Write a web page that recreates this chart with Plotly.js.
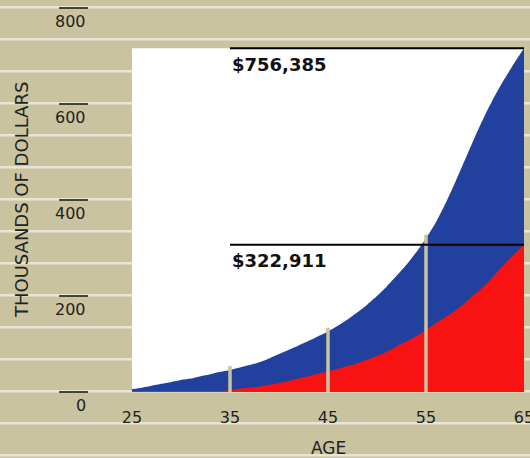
<!DOCTYPE html>
<html>
<head>
<meta charset="utf-8">
<script src="https://cdn.plot.ly/plotly-3.0.1.min.js"></script>
<style>html,body{margin:0;padding:0;background:#c9c49f;}</style>
</head>
<body>
<div id="chart" style="width:530px;height:458px;"></div>
<script>
// ---- data (thousands of dollars) ----
const ages = [25,26,27,28,29,30,31,32,33,34,35,36,37,38,39,40,41,42,43,44,45,46,47,48,49,50,51,52,53,54,55,56,57,58,59,60,61,62,63,64,65];
const totalValue = [6,9,13,17,21,25,28,33,37,42, 46,51,56,62,70,79,88,97,106,116, 126,138,151,166,182,200,220,242,265,291, 320,353,393,438,485,532,576,616,652,685,716];
const contributions = [2,2,2,2,2,2,2,2,2,2, 4,7,9,11,15,19,23,28,33,38, 43,48,54,60,67,75,84,95,105,116, 129,143,156,170,186,204,222,244,266,287,307];
const xTicks = [25,35,45,55,65];
const yTicks = [0,200,400,600,800];
const markerAges = [35,45,55];
const totalLabel = "$756,385";
const contribLabel = "$322,911";
const xTitle = "AGE";
const yTitle = "THOUSANDS OF DOLLARS";

// ---- styles ----
const TAN = "#c9c49f";
const STRIPE = "#e8e5d3";
const BLUE = "#22409e";
const RED = "#f81212";
const FONT = "DejaVu Sans";
const yMax = 800;

const traces = [
  {x: ages, y: totalValue, type: "scatter", mode: "lines", fill: "tozeroy",
   fillcolor: BLUE, line: {width: 0, color: BLUE, shape: "spline", smoothing: 0.6}, hoverinfo: "skip"},
  {x: ages, y: contributions, type: "scatter", mode: "lines", fill: "tozeroy",
   fillcolor: RED, line: {width: 0, color: RED, shape: "spline", smoothing: 0.6}, hoverinfo: "skip"}
];

const shapes = [];
// background stripes (decoration, page pixels -> paper)
const plotTopPx = 8, plotHpx = 384;
for (let k = 0; k < 15; k++) {
  const py = 7.3 + 32 * k;
  const yp = (plotTopPx + plotHpx - py) / plotHpx;
  shapes.push({type: "line", xref: "paper", yref: "paper", x0: -0.4, x1: 1.1, y0: yp, y1: yp,
    line: {color: STRIPE, width: 2.5}, layer: "below"});
}
// white plot panel
shapes.push({type: "rect", xref: "x", yref: "y", x0: ages[0], x1: ages[ages.length-1], y0: 0,
  y1: Math.max(...totalValue), fillcolor: "#ffffff", line: {width: 0}, layer: "below"});
// y tick bars
yTicks.forEach(v => {
  shapes.push({type: "line", xref: "paper", yref: "paper", x0: -0.186, x1: -0.112, y0: v / yMax, y1: v / yMax,
    line: {color: "#111", width: 1.5}});
});
// vertical tan markers
markerAges.forEach(a => {
  const i = ages.indexOf(a);
  shapes.push({type: "line", xref: "x", yref: "y", x0: a, x1: a, y0: 0, y1: totalValue[i] + 8,
    line: {color: TAN, width: 3.5}, layer: "above"});
});
// level lines
const lastT = totalValue[totalValue.length-1], lastC = contributions[contributions.length-1];
[lastT, lastC].forEach(v => {
  shapes.push({type: "line", xref: "x", yref: "y", x0: markerAges[0], x1: ages[ages.length-1], y0: v, y1: v,
    line: {color: "#000", width: 2}, layer: "above"});
});

const annotations = [];
yTicks.forEach(v => {
  annotations.push({xref: "paper", yref: "paper", x: -0.112, y: v / yMax, xanchor: "right", yanchor: "middle",
    yshift: -13, text: String(v), showarrow: false, font: {family: FONT, size: 16, color: "#222"}});
});
annotations.push({xref: "paper", yref: "paper", x: -0.283, y: 0.5, textangle: -90, xanchor: "center", yanchor: "middle",
  text: yTitle, showarrow: false, font: {family: FONT, size: 18, color: "#222"}});
annotations.push({xref: "paper", yref: "paper", x: 0.5, y: -0.146, xanchor: "center", yanchor: "middle",
  text: xTitle, showarrow: false, font: {family: FONT, size: 17, color: "#222"}});
annotations.push({xref: "x", yref: "y", x: markerAges[0], y: lastT, xanchor: "left", yanchor: "middle", yshift: -16,
  text: "<b>" + totalLabel + "</b>", showarrow: false, font: {family: FONT, size: 18, color: "#111"}});
annotations.push({xref: "x", yref: "y", x: markerAges[0], y: lastC, xanchor: "left", yanchor: "middle", yshift: -16,
  text: "<b>" + contribLabel + "</b>", showarrow: false, font: {family: FONT, size: 18, color: "#111"}});

const layout = {
  width: 530, height: 458,
  margin: {l: 132, r: 6, t: 8, b: 66},
  paper_bgcolor: TAN, plot_bgcolor: "rgba(0,0,0,0)",
  showlegend: false,
  xaxis: {range: [ages[0], ages[ages.length-1]], tickvals: xTicks, ticktext: xTicks.map(String),
    showgrid: false, zeroline: false, showline: false, ticks: "", ticklabelstandoff: 14,
    ticklabeloverflow: "allow",
    tickfont: {family: FONT, size: 16, color: "#222"}, fixedrange: true},
  yaxis: {range: [0, yMax], showticklabels: false, showgrid: false, zeroline: false, showline: false,
    ticks: "", fixedrange: true},
  shapes: shapes,
  annotations: annotations
};

Plotly.newPlot("chart", traces, layout, {displayModeBar: false, staticPlot: true});
</script>
</body>
</html>
